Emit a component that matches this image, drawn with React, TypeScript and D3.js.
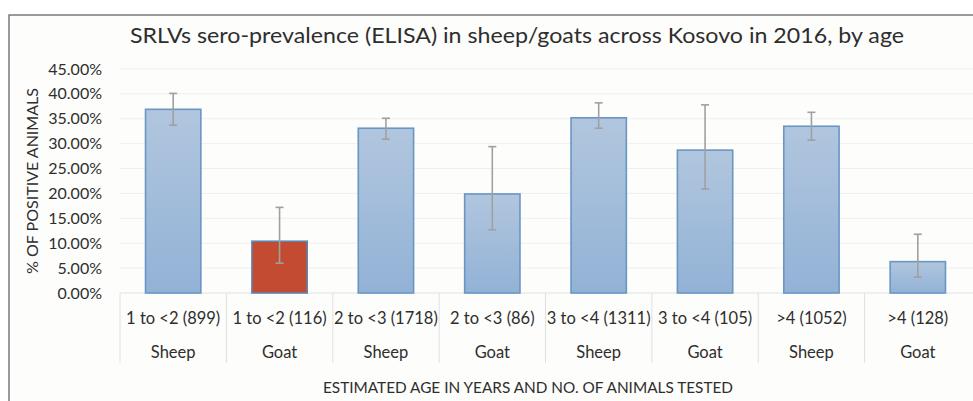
import React from 'react';
import * as d3 from 'd3';

const ageGroups = ['1 to <2 (899)', '1 to <2 (116)', '2 to <3 (1718)', '2 to <3 (86)', '3 to <4 (1311)', '3 to <4 (105)', '>4 (1052)', '>4 (128)'];
const species = ['Sheep', 'Goat', 'Sheep', 'Goat', 'Sheep', 'Goat', 'Sheep', 'Goat'];
const prevalence = [0.369, 0.104, 0.331, 0.199, 0.352, 0.287, 0.335, 0.063];
const ciLow = [0.337, 0.060, 0.309, 0.127, 0.331, 0.209, 0.307, 0.032];
const ciHigh = [0.401, 0.172, 0.351, 0.294, 0.382, 0.378, 0.363, 0.118];
const yTicks = [0, 0.05, 0.1, 0.15, 0.2, 0.25, 0.3, 0.35, 0.4, 0.45];
const highlighted = [1];

const W = 973;
const H = 401;
const font = 'Lato, "Open Sans", sans-serif';

export default function App() {
  const idx = d3.range(ageGroups.length);
  const x = d3.scaleBand<number>().domain(idx).range([120, 971]).padding(0);
  const y = d3.scaleLinear().domain([0, 0.45]).range([293, 69]);
  const barW = x.bandwidth() * 0.52;
  const fmt = d3.format('.2%');

  return (
    <svg width={W} height={H} style={{ position: 'fixed', left: 0, top: 0 }}>
      <defs>
        <linearGradient id="blueGrad" x1="0" y1="0" x2="0" y2="1">
          <stop offset="0" stopColor="#b1c6de" />
          <stop offset="1" stopColor="#92b2d6" />
        </linearGradient>
      </defs>
      <rect x={0} y={0} width={W} height={H} fill="#ffffff" />
      <rect x={9} y={15} width={W + 10} height={H} fill="#fdfdfb" stroke="#7a7a7a" strokeWidth={1.5} />

      {/* title */}
      <text x={517} y={43} textAnchor="middle" fontFamily={font} fontSize={22} fill="#2e2e2e" textLength={774} lengthAdjust="spacingAndGlyphs">
        SRLVs sero-prevalence (ELISA) in sheep/goats across Kosovo in 2016, by age
      </text>

      {/* grid + y ticks */}
      {yTicks.map(t => (
        <g key={t}>
          <line x1={120} x2={W} y1={y(t)} y2={y(t)} stroke={t === 0 ? '#e2e2e2' : '#efefef'} strokeWidth={1} />
          <text x={102} y={y(t) + 5.5} textAnchor="end" fontFamily={font} fontSize={16} fill="#2e2e2e">{fmt(t)}</text>
        </g>
      ))}

      {/* y title */}
      <text transform={`translate(38,${y(0.225)}) rotate(-90)`} textAnchor="middle" fontFamily={font} fontSize={16} fill="#2e2e2e" textLength={186} lengthAdjust="spacingAndGlyphs">
        % OF POSITIVE ANIMALS
      </text>

      {/* category dividers */}
      {idx.map(i => {
        const xx = x(i) as number;
        return <line key={i} x1={xx} x2={xx} y1={293} y2={363} stroke="#e0e0e0" strokeWidth={1} />;
      })}

      {/* bars */}
      {idx.map(i => {
        const cx = (x(i) as number) + x.bandwidth() / 2;
        const red = highlighted.includes(i);
        return (
          <g key={i}>
            <rect x={cx - barW / 2} y={y(prevalence[i])} width={barW} height={y(0) - y(prevalence[i])}
              fill={red ? '#c24b31' : 'url(#blueGrad)'} stroke={red ? '#5e86b3' : '#6a96c4'} strokeWidth={1.6} />
            <line x1={cx} x2={cx} y1={y(ciLow[i])} y2={y(ciHigh[i])} stroke="#a0a0a0" strokeWidth={1.6} />
            <line x1={cx - 4} x2={cx + 4} y1={y(ciLow[i])} y2={y(ciLow[i])} stroke="#a0a0a0" strokeWidth={1.6} />
            <line x1={cx - 4} x2={cx + 4} y1={y(ciHigh[i])} y2={y(ciHigh[i])} stroke="#a0a0a0" strokeWidth={1.6} />
            <text x={cx} y={324} textAnchor="middle" fontFamily={font} fontSize={16.5} fill="#2e2e2e">{ageGroups[i]}</text>
            <text x={cx} y={358} textAnchor="middle" fontFamily={font} fontSize={16.5} fill="#2e2e2e">{species[i]}</text>
          </g>
        );
      })}

      {/* x title */}
      <text x={528} y={393} textAnchor="middle" fontFamily={font} fontSize={15} fill="#2e2e2e" textLength={410} lengthAdjust="spacingAndGlyphs">
        ESTIMATED AGE IN YEARS AND NO. OF ANIMALS TESTED
      </text>
    </svg>
  );
}
